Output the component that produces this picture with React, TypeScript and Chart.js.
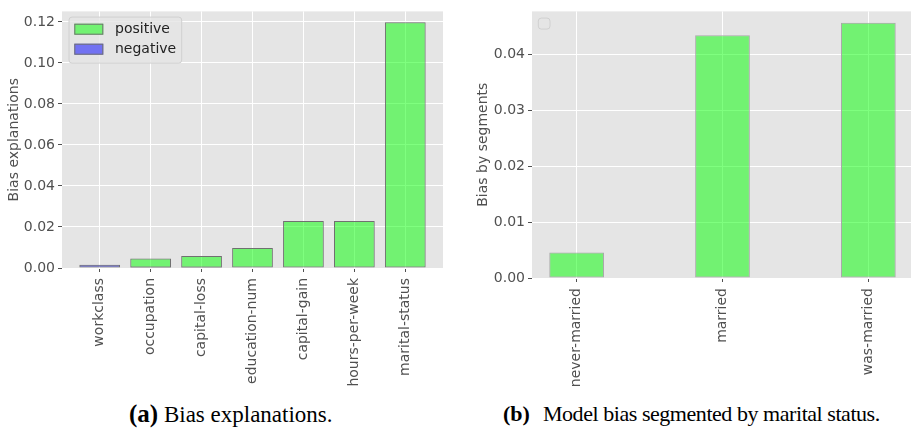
import React, { useEffect, useRef } from "react";
import { Chart, registerables } from "chart.js";

Chart.register(...registerables);

// ---------------- data ----------------
const featureLabels = [
  "workclass",
  "occupation",
  "capital-loss",
  "education-num",
  "capital-gain",
  "hours-per-week",
  "marital-status",
];
const positiveValues: (number | null)[] = [null, 0.0046, 0.0059, 0.0097, 0.0229, 0.0229, 0.1198];
const negativeValues: (number | null)[] = [0.0016, 0.0006, 0.0005, null, null, null, null];
const leftYTicks = [0, 0.02, 0.04, 0.06, 0.08, 0.1, 0.12];

const segmentLabels = ["never-married", "married", "was-married"];
const segmentValues = [0.00455, 0.0435, 0.0457];
const rightYTicks = [0, 0.01, 0.02, 0.03, 0.04];

const captionA = "Bias explanations.";
const captionB = "Model bias segmented by marital status.";

// ---------------- styling ----------------
const FONT = '"DejaVu Sans", sans-serif';
const TICK_COLOR = "#505050";
const BG = "#E5E5E5";
const GREEN = "rgba(0,255,0,0.5)";
const BLUE = "rgba(0,0,255,0.5)";

const bgPlugin = {
  id: "plotBg",
  beforeDraw(chart: any) {
    const { ctx, chartArea } = chart;
    ctx.save();
    ctx.fillStyle = BG;
    ctx.fillRect(chartArea.left, chartArea.top, chartArea.right - chartArea.left, chartArea.bottom - chartArea.top);
    ctx.restore();
  },
};

function roundRectPath(ctx: CanvasRenderingContext2D, x: number, y: number, w: number, h: number, r: number) {
  ctx.beginPath();
  ctx.moveTo(x + r, y);
  ctx.lineTo(x + w - r, y);
  ctx.quadraticCurveTo(x + w, y, x + w, y + r);
  ctx.lineTo(x + w, y + h - r);
  ctx.quadraticCurveTo(x + w, y + h, x + w - r, y + h);
  ctx.lineTo(x + r, y + h);
  ctx.quadraticCurveTo(x, y + h, x, y + h - r);
  ctx.lineTo(x, y + r);
  ctx.quadraticCurveTo(x, y, x + r, y);
  ctx.closePath();
}

const boxLegendPlugin = {
  id: "boxLegend",
  afterDatasetsDraw(chart: any, _args: any, opts: any) {
    if (!opts || !opts.display) return;
    const { ctx, chartArea } = chart;
    const x0 = chartArea.left + opts.offsetX;
    const y0 = chartArea.top + opts.offsetY;
    ctx.save();
    roundRectPath(ctx, x0, y0, opts.width, opts.height, 3);
    ctx.fillStyle = "rgba(229,229,229,0.8)";
    ctx.fill();
    ctx.strokeStyle = "#d0d0d0";
    ctx.lineWidth = 1;
    ctx.stroke();
    if (opts.showItems) {
      chart.data.datasets.forEach((ds: any, i: number) => {
        const py = y0 + 6.6 + i * 20;
        const px = x0 + 5.3;
        ctx.fillStyle = BG;
        ctx.fillRect(px, py, 29, 11);
        ctx.fillStyle = ds.backgroundColor;
        ctx.fillRect(px, py, 29, 11);
        ctx.strokeStyle = ds.borderColor;
        ctx.lineWidth = 1;
        ctx.strokeRect(px + 0.5, py + 0.5, 28, 10);
        ctx.fillStyle = "#222222";
        ctx.font = `14px ${FONT}`;
        ctx.textBaseline = "middle";
        ctx.textAlign = "left";
        ctx.fillText(ds.label, x0 + 46, py + 6);
      });
    }
    ctx.restore();
  },
};

function makeXAxis(labels: string[], min: number, max: number, height: number) {
  return {
    type: "linear" as const,
    min,
    max,
    offset: false,
    afterBuildTicks: (axis: any) => {
      axis.ticks = labels.map((_, i) => ({ value: i }));
    },
    afterFit: (axis: any) => {
      axis.height = height;
    },
    ticks: {
      autoSkip: false,
      maxRotation: 90,
      minRotation: 90,
      padding: 6,
      color: TICK_COLOR,
      font: { family: FONT, size: 14 },
      callback: (v: any) => labels[Math.round(Number(v))] ?? "",
    },
    grid: {
      offset: false,
      color: "#ffffff",
      lineWidth: 1,
      tickColor: TICK_COLOR,
      tickLength: 4,
      drawTicks: true,
    },
    border: { display: false },
  };
}

function makeYAxis(tickValues: number[], max: number, width: number, title: string, titlePad: number) {
  return {
    type: "linear" as const,
    min: 0,
    max,
    afterBuildTicks: (axis: any) => {
      axis.ticks = tickValues.map((v) => ({ value: v }));
    },
    afterFit: (axis: any) => {
      axis.width = width;
    },
    ticks: {
      padding: 3,
      color: TICK_COLOR,
      font: { family: FONT, size: 14 },
      callback: (v: any) => Number(v).toFixed(2),
    },
    grid: {
      color: "#ffffff",
      lineWidth: 1,
      tickColor: TICK_COLOR,
      tickLength: 4,
      drawTicks: true,
    },
    border: { display: false },
    title: {
      display: true,
      text: title,
      color: TICK_COLOR,
      font: { family: FONT, size: 14 },
      padding: { top: titlePad, bottom: 0 },
    },
  };
}

function LeftChart() {
  const ref = useRef<HTMLCanvasElement | null>(null);
  useEffect(() => {
    if (!ref.current) return;
    const chart = new Chart(ref.current, {
      type: "bar",
      data: {
        datasets: [
          {
            label: "positive",
            data: positiveValues.map((y, i) => ({ x: i, y })) as any,
            backgroundColor: GREEN,
            borderColor: "#707070",
            borderWidth: 1,
            borderSkipped: false,
            grouped: false,
            order: 1,
            categoryPercentage: 0.8,
            barPercentage: 1,
          } as any,
          {
            label: "negative",
            data: negativeValues.map((y, i) => ({ x: i, y })) as any,
            backgroundColor: BLUE,
            borderColor: "#707070",
            borderWidth: 1,
            borderSkipped: false,
            grouped: false,
            order: 0,
            categoryPercentage: 0.8,
            barPercentage: 1,
          } as any,
        ],
      },
      options: {
        animation: false,
        responsive: false,
        events: [],
        layout: { padding: { top: 5, right: 12, left: 0, bottom: 0 } },
        scales: {
          x: makeXAxis(featureLabels, -0.74, 6.74, 124) as any,
          y: makeYAxis(leftYTicks, 0.1251, 62, "Bias explanations", 6) as any,
        },
        plugins: {
          legend: { display: false },
          tooltip: { enabled: false },
          boxLegend: { display: true, showItems: true, offsetX: 7, offsetY: 5.7, width: 112.7, height: 46 },
        } as any,
      },
      plugins: [bgPlugin, boxLegendPlugin],
    });
    return () => chart.destroy();
  }, []);
  return <canvas ref={ref} width={455} height={392} style={{ position: "absolute", left: 0, top: 0 }} />;
}

function RightChart() {
  const ref = useRef<HTMLCanvasElement | null>(null);
  useEffect(() => {
    if (!ref.current) return;
    const chart = new Chart(ref.current, {
      type: "bar",
      data: {
        datasets: [
          {
            label: "bias",
            data: segmentValues.map((y, i) => ({ x: i, y })) as any,
            backgroundColor: GREEN,
            borderColor: "#a8a8a8",
            borderWidth: 1,
            borderSkipped: false,
            categoryPercentage: 0.375,
            barPercentage: 1,
          } as any,
        ],
      },
      options: {
        animation: false,
        responsive: false,
        events: [],
        layout: { padding: { top: 5, right: 2, left: 0, bottom: 0 } },
        scales: {
          x: makeXAxis(segmentLabels, -0.306, 2.306, 114) as any,
          y: makeYAxis(rightYTicks, 0.04775, 77, "Bias by segments", 20) as any,
        },
        plugins: {
          legend: { display: false },
          tooltip: { enabled: false },
          boxLegend: { display: true, showItems: false, offsetX: 6.3, offsetY: 6.7, width: 11.7, height: 11 },
        } as any,
      },
      plugins: [bgPlugin, boxLegendPlugin],
    });
    return () => chart.destroy();
  }, []);
  return <canvas ref={ref} width={460} height={392} style={{ position: "absolute", left: 455, top: 0 }} />;
}

export default function App() {
  const captionStyle: React.CSSProperties = {
    position: "absolute",
    top: 403,
    fontFamily: '"Liberation Serif", "Times New Roman", serif',
    lineHeight: "22px",
    color: "#000",
    whiteSpace: "nowrap",
  };
  return (
    <div
      style={{
        position: "fixed",
        left: 0,
        top: 0,
        width: 911,
        height: 431,
        overflow: "hidden",
        background: "#ffffff",
      }}
    >
      <LeftChart />
      <RightChart />
      <div style={{ ...captionStyle, left: 129, fontSize: 23 }}>
        <b style={{ fontSize: 25 }}>(a)</b> {captionA}
      </div>
      <div style={{ ...captionStyle, left: 503, fontSize: 22, letterSpacing: "-0.45px" }}>
        <b style={{ marginRight: 8, letterSpacing: 0 }}>(b)</b> {captionB}
      </div>
    </div>
  );
}
